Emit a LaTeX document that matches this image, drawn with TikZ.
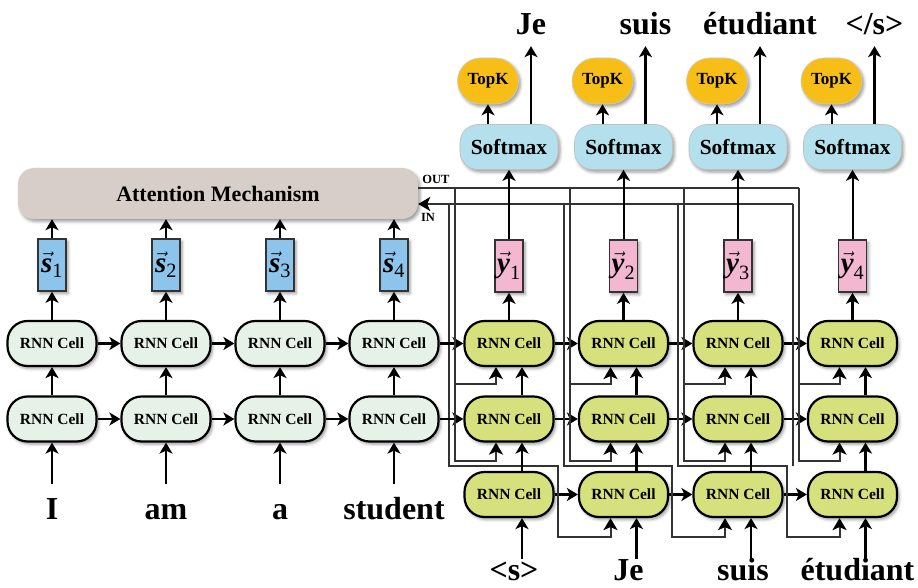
\documentclass[tikz,border=0pt]{standalone}
\usepackage{amsmath}
\usepackage{fontspec}
\setmainfont{Liberation Serif}
\usetikzlibrary{arrows.meta,calc,shadows.blur}
\definecolor{enccol}{HTML}{E6F2E7}
\definecolor{deccol}{HTML}{D6E07C}
\definecolor{scol}{HTML}{8DC4EC}
\definecolor{ycol}{HTML}{F4B7D2}
\definecolor{softcol}{HTML}{B3E0EC}
\definecolor{topkcol}{HTML}{F6BE17}
\definecolor{attncol}{HTML}{D8CEC9}
\definecolor{wirecol}{HTML}{333333}
\tikzset{
	shade/.style={blur shadow={shadow xshift=2pt, shadow yshift=-2.5pt, shadow blur radius=3pt, shadow opacity=40}},
	cell/.style={draw, line width=2.2pt, rounded corners=20pt, minimum width=89pt, minimum height=45pt, inner sep=0pt, font=\fontsize{15.5}{17}\selectfont\bfseries, shade},
	enccell/.style={cell, fill=enccol},
	deccell/.style={cell, fill=deccol},
	vecbox/.style={draw=wirecol, line width=1.6pt, minimum width=28pt, minimum height=52pt, inner sep=0pt, font=\fontsize{29}{30}\selectfont, shade},
	word/.style={anchor=base, inner sep=0pt, text height=23pt, text depth=5pt, font=\fontsize{32}{34}\selectfont\bfseries},
	softbox/.style={fill=softcol, draw=gray!50, line width=.6pt, rounded corners=18pt, minimum width=98pt, minimum height=45pt, font=\fontsize{21.5}{23}\selectfont\bfseries, shade},
	topkbox/.style={fill=topkcol, draw=gray!40, line width=.6pt, rounded corners=23pt, minimum width=61pt, minimum height=46pt, font=\fontsize{17}{19}\selectfont\bfseries, shade},
	attnbox/.style={fill=attncol, rounded corners=16pt, minimum width=400pt, minimum height=51pt, font=\fontsize{22}{24}\selectfont\bfseries, shade},
	lbl/.style={inner sep=0pt, font=\fontsize{12.5}{14}\selectfont\bfseries},
	flow/.style={->, line width=2.5pt},
	thinflow/.style={->, line width=2pt},
	wire/.style={line width=2pt, draw=wirecol},
	wirearrow/.style={wire, -{Stealth[length=12pt,width=14pt,inset=3pt,black]}}
}

\begin{document}
\begin{tikzpicture}[x=1pt, y=-1pt, >={Stealth[length=11pt,width=13pt,inset=3pt]}]
	\useasboundingbox (0,0) rectangle (918,588);
	\node[attnbox] (attn) at (218,193.5) {Attention Mechanism};
	\node[lbl] (outlbl) at (436,179) {OUT};
	\node[lbl] (inlbl) at (428,217) {IN};
	\foreach \w [count=\i] in {I,am,a,student} {
		\pgfmathsetmacro\xx{52+114*(\i-1)}
		\node[enccell] (enctop\i) at (\xx,343.5) {RNN Cell};
		\node[enccell] (encbot\i) at (\xx,419) {RNN Cell};
		\node[vecbox, fill=scol] (s\i) at (\xx,265) {$\vec{\text{\bfseries\itshape s}}_{\text{\normalfont\i}}$};
		\node[word] (src\i) at (\xx,519) {\w};
	}
	\foreach \j in {1,...,4} {
		\pgfmathsetmacro\xx{509+114.5*(\j-1)}
		\node[deccell] (dectop\j) at (\xx,343.5) {RNN Cell};
		\node[deccell] (decmid\j) at (\xx,419) {RNN Cell};
		\node[deccell] (decbot\j) at (\xx,494.5) {RNN Cell};
		\node[vecbox, fill=ycol] (y\j) at (\xx,266) {$\vec{\text{\bfseries\itshape y}}_{\text{\normalfont\j}}$};
		\node[softbox] (soft\j) at (\xx,147) {Softmax};
		\node[topkbox] (topk\j) at (\xx-21,81) {TopK};
		\coordinate (outtap\j) at (\xx-54,188);
		\coordinate (intap\j) at (\xx-60,204);
	}
	\foreach \o [count=\j] in {Je,suis,étudiant,{</s>}}
		\node[word] (outw\j) at ({509+114.5*(\j-1)+22},35) {\o};
	\foreach \w [count=\j] in {{<s>},Je,suis,étudiant}
		\node[word] (tgt\j) at ({509+114.5*(\j-1)+5},580) {\w};

	\draw[wire] (attn.east |- outtap1) -- (outtap4);
	\draw[wirearrow] (intap4) -- (attn.east |- intap1);
	\foreach \i in {1,...,4} {
		\draw[flow, shorten <=12pt] (src\i) -- (encbot\i);
		\draw[flow] (encbot\i) -- (enctop\i);
		\draw[flow] (enctop\i) -- (s\i);
		\draw[flow] (s\i) -- (s\i |- attn.south);
	}
	\foreach \i [count=\n from 2] in {1,2,3} {
		\draw[flow] (enctop\i) -- (enctop\n);
		\draw[flow] (encbot\i) -- (encbot\n);
		\draw[flow] (dectop\i) -- (dectop\n);
		\draw[flow] (decmid\i) -- (decmid\n);
		\draw[flow] (decbot\i) -- (decbot\n);
		\pgfmathsetmacro\xn{509+114.5*\i}
		\draw[wirearrow] (intap\i) |- (\xn-66,466) -- (\xn-66,537) -| ([xshift=-13pt]decbot\n.south);
	}
	\draw[flow] (enctop4) -- (dectop1);
	\draw[flow] (encbot4) -- (decmid1);
	\draw[wire] (intap4) -- ++(0,262);
	\foreach \j in {1,...,4} {
		\draw[wirearrow] (outtap\j) |- ([xshift=-13pt, yshift=-17pt]dectop\j.south) -- ([xshift=-13pt]dectop\j.south);
		\draw[wirearrow] (outtap\j) |- ([xshift=-13pt, yshift=-18pt]decmid\j.south) -- ([xshift=-13pt]decmid\j.south);
		\draw[flow, shorten <=-2pt] ([xshift=8pt]tgt\j.north) -- ([xshift=13pt]decbot\j.south);
		\draw[flow] ([xshift=13pt]decbot\j.north) -- ([xshift=13pt]decmid\j.south);
		\draw[flow] ([xshift=13pt]decmid\j.north) -- ([xshift=13pt]dectop\j.south);
		\draw[flow] (dectop\j) -- (y\j);
		\draw[thinflow] (y\j) -- (soft\j);
		\draw[thinflow] (soft\j.north -| topk\j) -- (topk\j);
		\draw[flow, shorten >=6pt] (soft\j.north -| outw\j) -- (outw\j);
	}
\end{tikzpicture}
\end{document}
